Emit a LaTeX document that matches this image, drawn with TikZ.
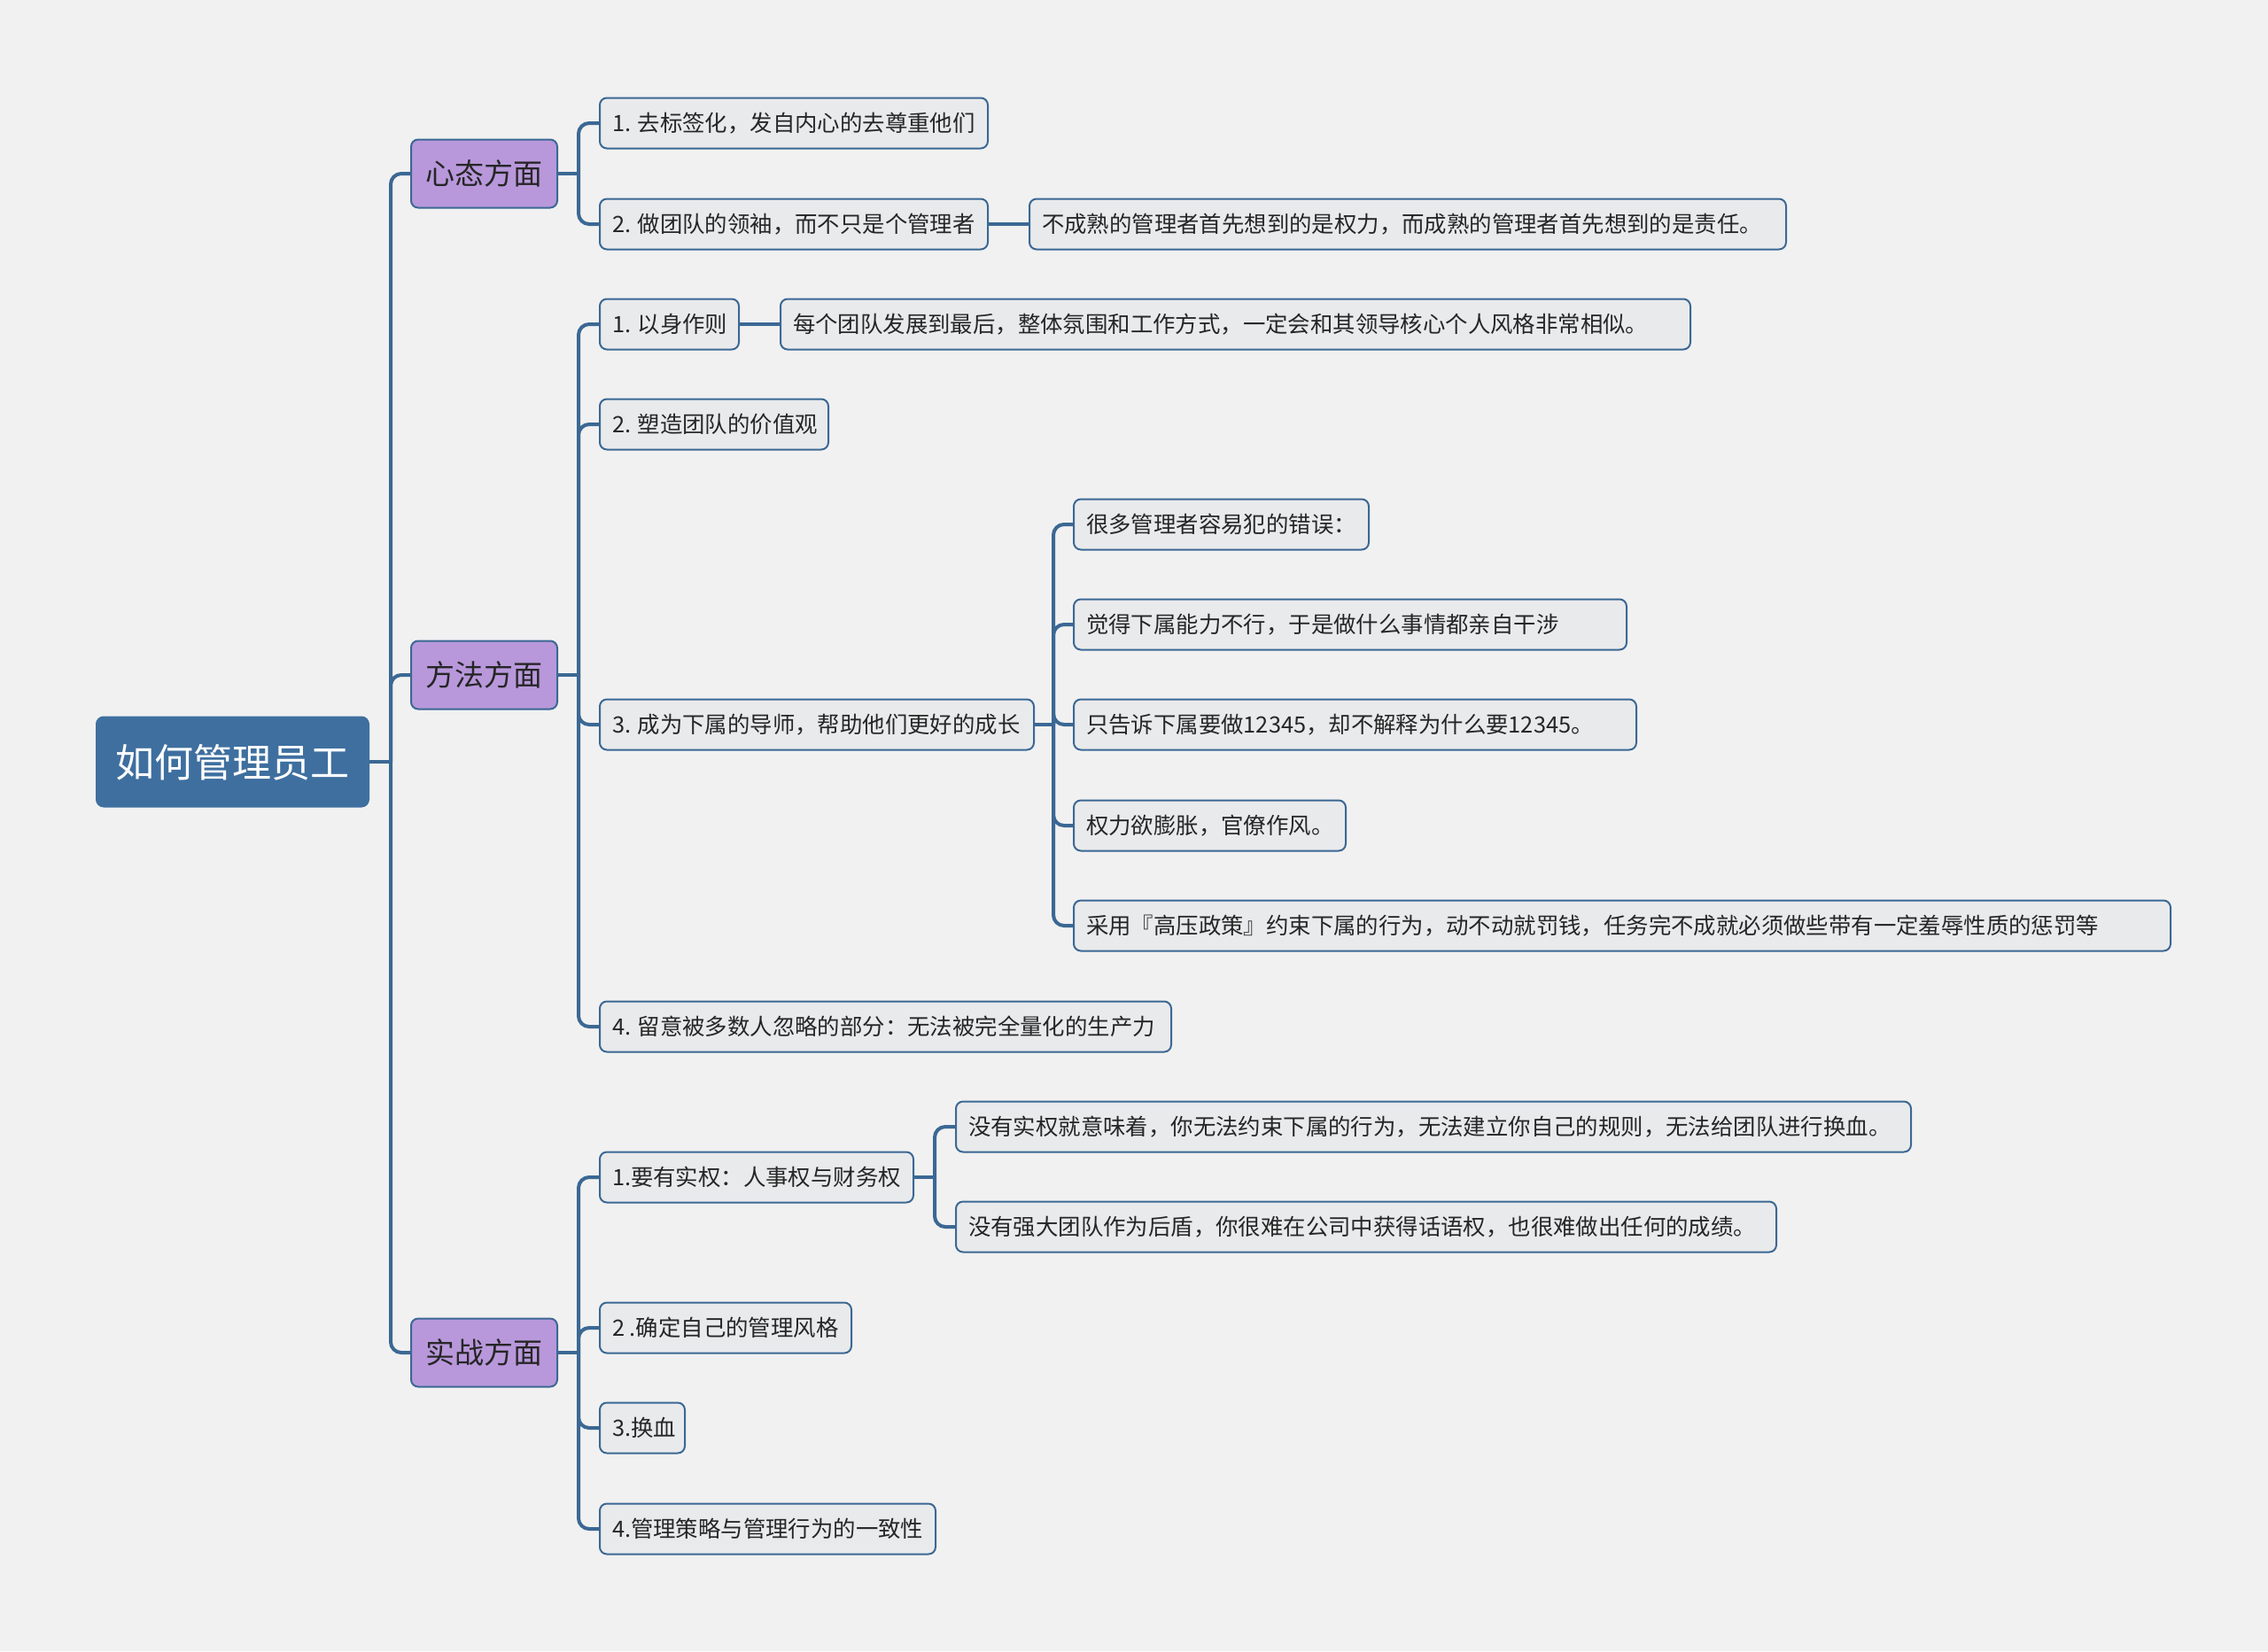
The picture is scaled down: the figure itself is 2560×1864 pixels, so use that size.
\documentclass[tikz,border=0pt]{standalone}
\usepackage{fontspec}
\setmainfont{Noto Sans CJK SC}
\definecolor{bgc}{HTML}{F1F1F1}
\definecolor{linec}{HTML}{3B6894}
\definecolor{rootc}{HTML}{3E6F9F}
\definecolor{purp}{HTML}{B898DB}
\definecolor{boxc}{HTML}{E9EAEC}
\definecolor{txtc}{HTML}{262626}
\newcommand\bx[2]{\makebox[#1pt][l]{#2}}
\begin{document}
\begin{tikzpicture}[x=1pt,y=-1pt,
 conn/.style={draw=linec, line width=4pt, rounded corners=12pt},
 rootbox/.style={fill=rootc, draw=rootc, line width=2pt, rounded corners=8pt, minimum width=307pt, minimum height=101pt, text=white, font=\fontsize{44}{50}\selectfont, text height=39pt, text depth=5pt, inner xsep=0pt},
 l1box/.style={fill=purp, draw=linec, line width=2pt, rounded corners=8pt, minimum width=165pt, minimum height=77pt, text=txtc, font=\fontsize{33}{38}\selectfont, text height=29pt, text depth=4pt, inner xsep=0pt},
 l2box/.style={fill=boxc, draw=linec, line width=2pt, rounded corners=8pt, minimum height=57pt, inner xsep=14pt, inner ysep=0pt, text=txtc, font=\fontsize{25.4}{30}\selectfont, text height=22pt, text depth=3pt, anchor=west},
]
\fill[bgc] (0,0) rectangle (2560,1864);
\useasboundingbox (0,0) rectangle (2560,1864);

% root and level 1
\node[rootbox] (root) at (262.5,860) {如何管理员工};
\node[l1box] (xt) at (546.5,196) {心态方面};
\node[l1box] (ff) at (546.5,762) {方法方面};
\node[l1box] (sz) at (546.5,1527) {实战方面};

% 心态方面 children
\node[l2box] (xt1) at (676,139) {\bx{410}{1. 去标签化，发自内心的去尊重他们}};
\node[l2box] (xt2) at (676,253) {\bx{410}{2. 做团队的领袖，而不只是个管理者}};
\node[l2box] (xt2a) at (1161,253) {\bx{826}{不成熟的管理者首先想到的是权力，而成熟的管理者首先想到的是责任。}};

% 方法方面 children
\node[l2box] (ff1) at (676,366) {\bx{129}{1. 以身作则}};
\node[l2box] (ff1a) at (880,366) {\bx{999}{每个团队发展到最后，整体氛围和工作方式，一定会和其领导核心个人风格非常相似。}};
\node[l2box] (ff2) at (676,479) {\bx{230}{2. 塑造团队的价值观}};
\node[l2box] (ff3) at (676,818) {\bx{462}{3. 成为下属的导师，帮助他们更好的成长}};
\node[l2box] (ff3a) at (1211,592) {\bx{305}{很多管理者容易犯的错误：}};
\node[l2box] (ff3b) at (1211,705) {\bx{596}{觉得下属能力不行，于是做什么事情都亲自干涉}};
\node[l2box] (ff3c) at (1211,818) {\bx{607}{只告诉下属要做12345，却不解释为什么要12345。}};
\node[l2box] (ff3d) at (1211,932) {\bx{279}{权力欲膨胀，官僚作风。}};
\node[l2box] (ff3e) at (1211,1045) {\bx{1210}{采用『高压政策』约束下属的行为，动不动就罚钱，任务完不成就必须做些带有一定羞辱性质的惩罚等}};
\node[l2box] (ff4) at (676,1159) {\bx{617}{4. 留意被多数人忽略的部分：无法被完全量化的生产力}};

% 实战方面 children
\node[l2box] (sz1) at (676,1329) {\bx{326}{1.要有实权：人事权与财务权}};
\node[l2box] (sz1a) at (1078,1272) {\bx{1050}{没有实权就意味着，你无法约束下属的行为，无法建立你自己的规则，无法给团队进行换血。}};
\node[l2box] (sz1b) at (1078,1385) {\bx{898}{没有强大团队作为后盾，你很难在公司中获得话语权，也很难做出任何的成绩。}};
\node[l2box] (sz2) at (676,1499) {\bx{256}{2 .确定自己的管理风格}};
\node[l2box] (sz3) at (676,1612) {\bx{68}{3.换血}};
\node[l2box] (sz4) at (676,1726) {\bx{351}{4.管理策略与管理行为的一致性}};

% junction points
\coordinate (jr) at (441,860);
\coordinate (jxt) at (653,196);
\coordinate (jff) at (653,762);
\coordinate (jsz) at (653,1527);
\coordinate (jff3) at (1189,818);
\coordinate (jsz1) at (1055,1329);

% connectors
\draw[conn] (root.east) -- (jr);
\foreach \c in {xt,ff,sz} \draw[conn] (jr) |- (\c.west);

\draw[conn] (xt.east) -- (jxt);
\foreach \c in {xt1,xt2} \draw[conn] (jxt) |- (\c.west);
\draw[conn] (xt2.east) -- (xt2a.west);

\draw[conn] (ff.east) -- (jff);
\foreach \c in {ff1,ff2,ff3,ff4} \draw[conn] (jff) |- (\c.west);
\draw[conn] (ff1.east) -- (ff1a.west);
\draw[conn] (ff3.east) -- (jff3);
\foreach \c in {ff3a,ff3b,ff3c,ff3d,ff3e} \draw[conn] (jff3) |- (\c.west);

\draw[conn] (sz.east) -- (jsz);
\foreach \c in {sz1,sz2,sz3,sz4} \draw[conn] (jsz) |- (\c.west);
\draw[conn] (sz1.east) -- (jsz1);
\foreach \c in {sz1a,sz1b} \draw[conn] (jsz1) |- (\c.west);
\end{tikzpicture}
\end{document}
